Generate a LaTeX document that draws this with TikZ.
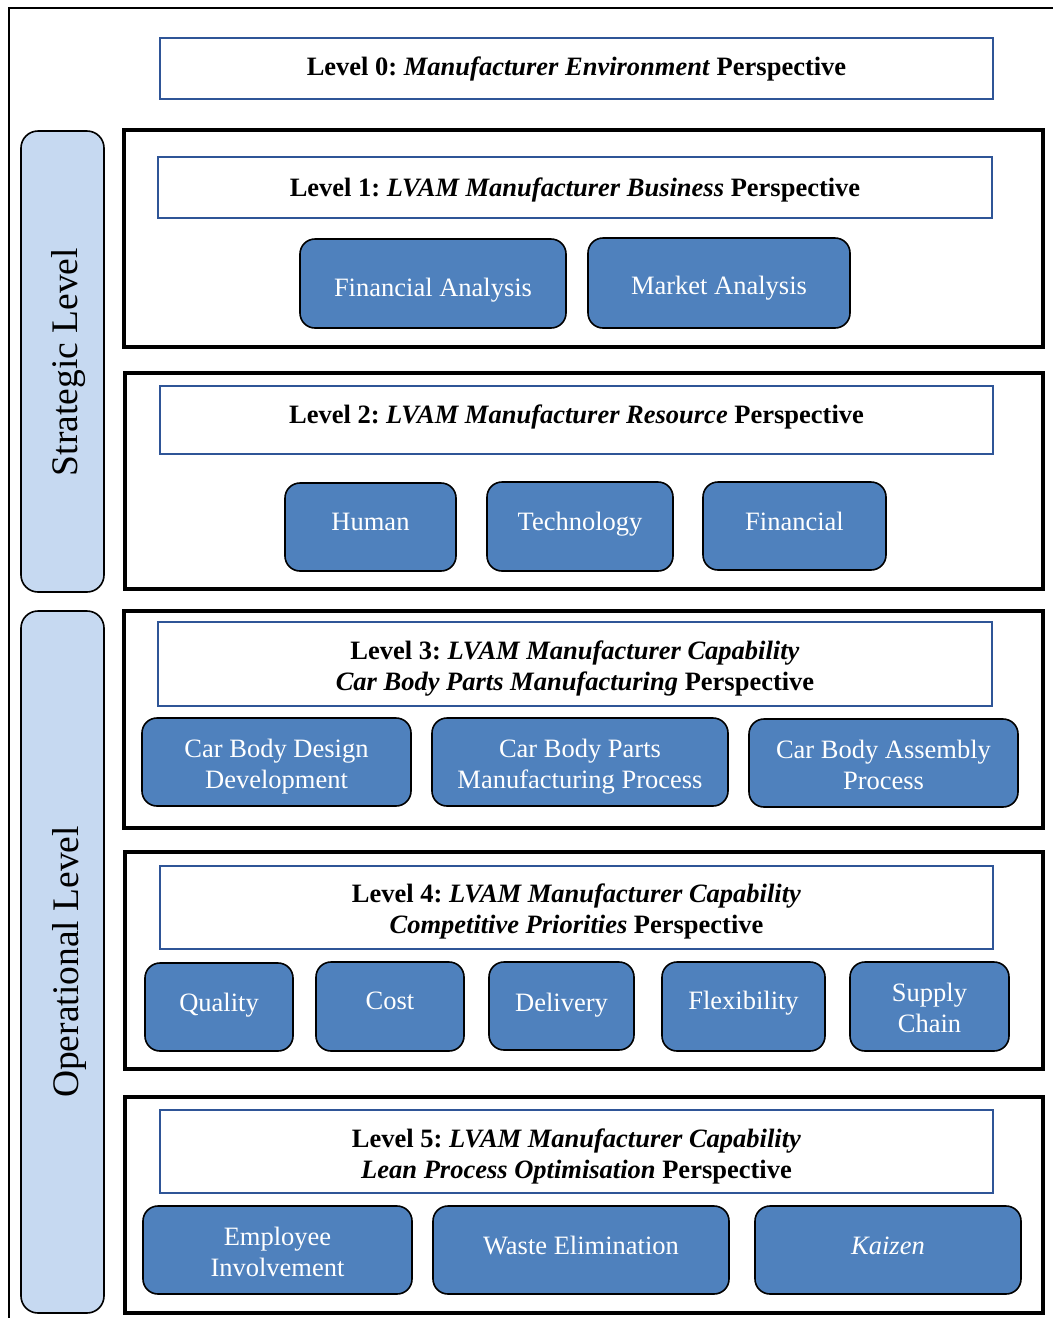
\documentclass[tikz,border=0pt]{standalone}
\usepackage{fontspec}
\setmainfont{Liberation Serif}
\frenchspacing
\definecolor{boxblue}{HTML}{4F81BD}
\definecolor{lineblue}{HTML}{2F5597}
\definecolor{paleblue}{HTML}{C6D9F1}
\begin{document}
\begin{tikzpicture}[x=1pt,y=-1pt,
  frame/.style={draw=black, line width=3.2pt, inner sep=0pt},
  header/.style={draw=lineblue, line width=2.2pt, fill=white, inner sep=0pt, align=center,
    font=\fontsize{26.5}{31}\selectfont\bfseries},
  bluebox/.style={draw=black, line width=1.6pt, fill=boxblue, rounded corners=15pt,
    inner sep=0pt, align=center, text=white, font=\fontsize{26.5}{31}\selectfont},
  % text box height/depth: places the baseline relative to the box centre
  tb/.style 2 args={text height=#1, text depth=#2},
  sidebox/.style={draw=black, line width=1.6pt, fill=paleblue, rounded corners=17pt,
    inner sep=0pt},
  sidelabel/.style={rotate=90, font=\fontsize{37.5}{40}\selectfont}]
\useasboundingbox (0,0) rectangle (1053,1318);

% outer frame (top and left edges)
\draw[line width=1.6pt] (9,1318) -- (9,8) -- (1053,8);

% side bands
\node[sidebox, minimum width=83pt, minimum height=461pt] (strat) at (62.5,361.5) {};
\node[sidelabel] (stratlbl) at (69,362) {Strategic Level};
\node[sidebox, minimum width=83pt, minimum height=702pt] (oper) at (62.5,962) {};
\node[sidelabel] (operlbl) at (69,962) {Operational Level};

% level 0
\node[header, tb={14pt}{0pt}, minimum width=833pt, minimum height=61pt] (l0) at (576.5,68.5)
  {Level 0: \textit{Manufacturer Environment} Perspective};

% level 1
\node[frame, minimum width=919pt, minimum height=217pt] (f1) at (583.5,238.5) {};
\node[header, tb={18pt}{0pt}, minimum width=834pt, minimum height=61pt] (l1) at (575,187.5)
  {Level 1: \textit{LVAM Manufacturer Business} Perspective};
\node[bluebox, tb={25pt}{0pt}, minimum width=266pt, minimum height=89pt] (fa) at (433,283.5) {Financial Analysis};
\node[bluebox, tb={22pt}{0pt}, minimum width=262pt, minimum height=90pt] (ma) at (719,283) {Market Analysis};

% level 2
\node[frame, minimum width=918pt, minimum height=216pt] (f2) at (584,481) {};
\node[header, tb={6pt}{0pt}, minimum width=833pt, minimum height=68pt] (l2) at (576.5,420)
  {Level 2: \textit{LVAM Manufacturer Resource} Perspective};
\node[bluebox, tb={6pt}{0pt}, minimum width=171pt, minimum height=88pt] (hu) at (370.5,527) {Human};
\node[bluebox, tb={7pt}{0pt}, minimum width=186pt, minimum height=89pt] (te) at (580,526.5) {Technology};
\node[bluebox, tb={8pt}{0pt}, minimum width=183pt, minimum height=88pt] (fi) at (794.5,526) {Financial};

% level 3
\node[frame, minimum width=919pt, minimum height=217pt] (f3) at (583.5,719.5) {};
\node[header, tb={53pt}{0pt}, minimum width=834pt, minimum height=84pt] (l3) at (575,664)
  {Level 3: \textit{LVAM Manufacturer Capability}\\\textit{Car Body Parts Manufacturing} Perspective};
\node[bluebox, tb={52pt}{0pt}, minimum width=269pt, minimum height=88pt] (cbd) at (276.5,762)
  {Car Body Design\\Development};
\node[bluebox, tb={52pt}{0pt}, minimum width=296pt, minimum height=88pt] (cbp) at (580,762)
  {Car Body Parts\\Manufacturing Process};
\node[bluebox, tb={52pt}{0pt}, minimum width=269pt, minimum height=88pt] (cba) at (883.5,763)
  {Car Body Assembly\\Process};

% level 4
\node[frame, minimum width=918pt, minimum height=217pt] (f4) at (584,960.5) {};
\node[header, tb={52pt}{0pt}, minimum width=833pt, minimum height=83pt] (l4) at (576.5,907.5)
  {Level 4: \textit{LVAM Manufacturer Capability}\\\textit{Competitive Priorities} Perspective};
\node[bluebox, tb={8pt}{0pt}, minimum width=148pt, minimum height=88pt] (qu) at (219,1007) {Quality};
\node[bluebox, tb={5pt}{0pt}, minimum width=148pt, minimum height=89pt] (co) at (390,1006.5) {Cost};
\node[bluebox, tb={10pt}{0pt}, minimum width=145pt, minimum height=88pt] (de) at (561.5,1006) {Delivery};
\node[bluebox, tb={5pt}{0pt}, minimum width=163pt, minimum height=89pt] (fl) at (743.5,1006.5) {Flexibility};
\node[bluebox, tb={51pt}{0pt}, minimum width=159pt, minimum height=89pt] (sc) at (929.5,1006.5) {Supply\\Chain};

% level 5
\node[frame, minimum width=918pt, minimum height=216pt] (f5) at (584,1205) {};
\node[header, tb={53pt}{0pt}, minimum width=833pt, minimum height=83pt] (l5) at (576.5,1151.5)
  {Level 5: \textit{LVAM Manufacturer Capability}\\\textit{Lean Process Optimisation} Perspective};
\node[bluebox, tb={53pt}{0pt}, minimum width=269pt, minimum height=88pt] (ei) at (277.5,1250)
  {Employee\\Involvement};
\node[bluebox, tb={8pt}{0pt}, minimum width=296pt, minimum height=88pt] (we) at (581,1250) {Waste Elimination};
\node[bluebox, tb={8pt}{0pt}, minimum width=266pt, minimum height=88pt] (kz) at (888,1250) {\textit{Kaizen}};
\end{tikzpicture}
\end{document}
